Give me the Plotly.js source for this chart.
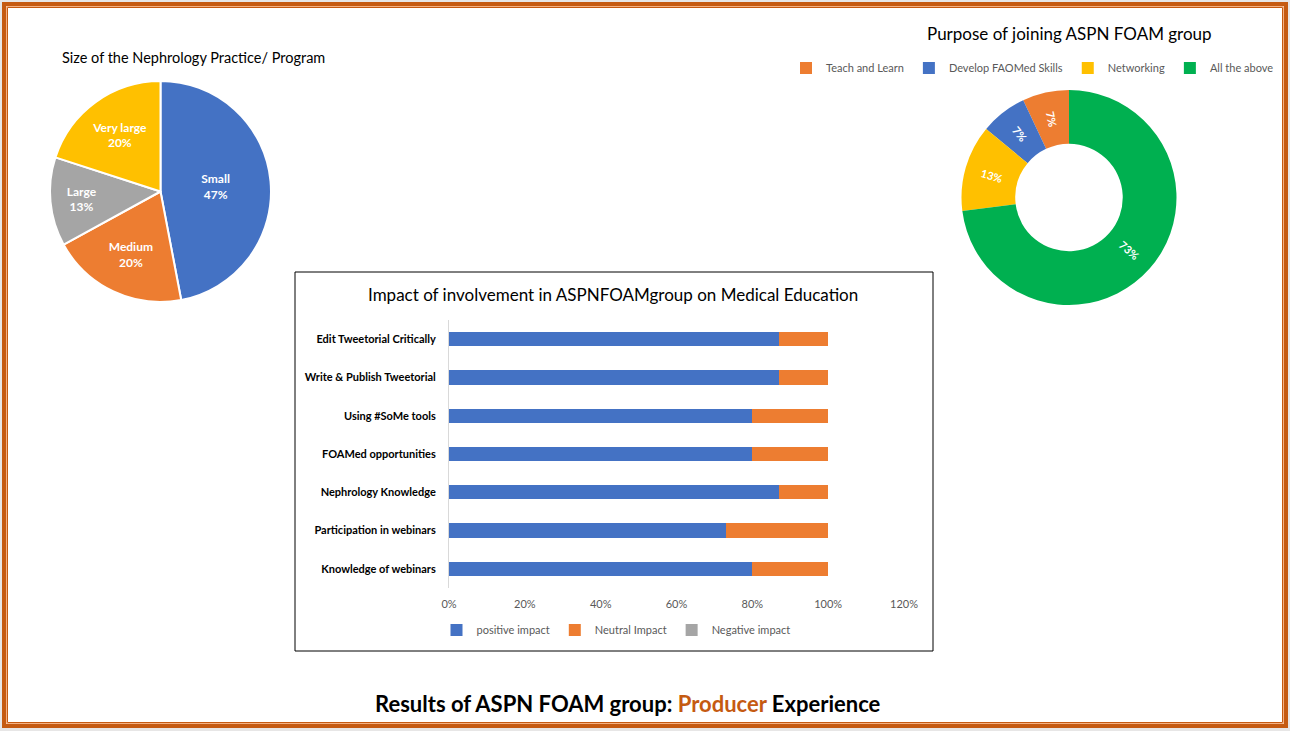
<!DOCTYPE html>
<html>
<head>
<meta charset="utf-8">
<script src="https://cdn.plot.ly/plotly-3.0.1.min.js"></script>
<style>
  html, body { margin: 0; padding: 0; background: #E7E6E6; overflow: hidden; width: 1290px; height: 731px; }
  #chart { width: 1290px; height: 731px; overflow: hidden; }
</style>
</head>
<body>
<div id="chart"></div>
<script>
// ---- Data ----
const sizeLabels = ['Small', 'Medium', 'Large', 'Very large'];
const sizeValues = [47, 20, 13, 20];
const sizeColors = ['#4472C4', '#ED7D31', '#A5A5A5', '#FFC000'];

const purposeLabels = ['Teach and Learn', 'Develop FAOMed Skills', 'Networking', 'All the above'];
const purposeValues = [7, 7, 13, 73];
const purposeColors = ['#ED7D31', '#4472C4', '#FFC000', '#00B050'];

const impactCategories = [
  'Edit Tweetorial Critically',
  'Write & Publish Tweetorial',
  'Using #SoMe tools',
  'FOAMed opportunities',
  'Nephrology Knowledge',
  'Participation in webinars',
  'Knowledge of webinars'
];
const positiveImpact = [0.87, 0.87, 0.80, 0.80, 0.87, 0.73, 0.80];
const neutralImpact  = [0.13, 0.13, 0.20, 0.20, 0.13, 0.27, 0.20];
const negativeImpact = [0, 0, 0, 0, 0, 0, 0];
const impactTicks = [0, 0.2, 0.4, 0.6, 0.8, 1.0, 1.2];

// ---- Helpers (pixel -> paper) ----
const W = 1290, H = 731;
const px = v => v / W;
const py = v => 1 - v / H;
const FONT = 'Lato, "Open Sans", sans-serif';

// Donut geometry (pixels)
const donutBox = { x0: 961, x1: 1177, y0: 90, y1: 305 };
const donutHole = 0.5;
const donutCx = (donutBox.x0 + donutBox.x1) / 2;
const donutCy = (donutBox.y0 + donutBox.y1) / 2;
const donutR = Math.min(donutBox.x1 - donutBox.x0, donutBox.y1 - donutBox.y0) / 2;

// first (orange) slice must end at 12 o'clock when drawn counterclockwise
const purposeTotal = purposeValues.reduce((a, b) => a + b, 0);
const purposeRotation = -360 * purposeValues[0] / purposeTotal;

// radial slice labels for the donut, derived from the data
const donutLabelAnnotations = [];
(function () {
  let cum = 0;
  const rMid = donutR * (1 + donutHole) / 2;
  purposeValues.forEach(v => {
    const frac = v / purposeTotal;
    const aDeg = -(cum + frac / 2) * 360; // clockwise from 12 o'clock
    const a = aDeg * Math.PI / 180;
    const rot = ((aDeg + 720) % 180) - 90;
    donutLabelAnnotations.push({
      xref: 'paper', yref: 'paper',
      x: px(donutCx + rMid * Math.sin(a)),
      y: py(donutCy - rMid * Math.cos(a)),
      xanchor: 'center', yanchor: 'middle', showarrow: false,
      textangle: rot,
      text: '<b>' + Math.round(frac * 100) + '%</b>',
      font: { size: 11, color: '#FFFFFF', family: FONT }
    });
    cum += frac;
  });
})();

const traces = [
  {
    type: 'pie',
    labels: sizeLabels,
    values: sizeValues,
    marker: { colors: sizeColors, line: { color: '#FFFFFF', width: 2 } },
    sort: false,
    direction: 'clockwise',
    rotation: 0,
    texttemplate: '<b>%{label}<br>%{percent:.0%}</b>',
    textposition: 'inside',
    insidetextorientation: 'horizontal',
    insidetextfont: { color: '#FFFFFF', size: 12, family: FONT },
    showlegend: false,
    domain: { x: [px(50), px(271)], y: [py(302), py(81)] }
  },
  {
    type: 'pie',
    labels: purposeLabels,
    values: purposeValues,
    hole: donutHole,
    marker: { colors: purposeColors, line: { color: '#FFFFFF', width: 0 } },
    sort: false,
    direction: 'counterclockwise',
    rotation: purposeRotation,
    textinfo: 'none',
    legend: 'legend',
    showlegend: true,
    domain: { x: [px(donutBox.x0), px(donutBox.x1)], y: [py(donutBox.y1), py(donutBox.y0)] }
  },
  {
    type: 'bar', orientation: 'h', name: 'positive impact',
    y: impactCategories, x: positiveImpact,
    marker: { color: '#4472C4' }, legend: 'legend2', xaxis: 'x', yaxis: 'y'
  },
  {
    type: 'bar', orientation: 'h', name: 'Neutral Impact',
    y: impactCategories, x: neutralImpact,
    marker: { color: '#ED7D31' }, legend: 'legend2', xaxis: 'x', yaxis: 'y'
  },
  {
    type: 'bar', orientation: 'h', name: 'Negative impact',
    y: impactCategories, x: negativeImpact,
    marker: { color: '#A5A5A5' }, legend: 'legend2', xaxis: 'x', yaxis: 'y'
  }
];

const layout = {
  width: W, height: H,
  margin: { l: 0, r: 0, t: 0, b: 0 },
  paper_bgcolor: '#E7E6E6',
  plot_bgcolor: 'rgba(0,0,0,0)',
  font: { family: FONT, color: '#000000' },
  barmode: 'stack',
  bargap: 0.63,
  hovermode: false,
  xaxis: {
    domain: [px(449), px(904)],
    range: [0, 1.2],
    tickvals: impactTicks,
    tickformat: '.0%',
    showgrid: false, zeroline: false, showline: false,
    ticks: '',
    ticklabelstandoff: 8,
    tickfont: { size: 11, color: '#595959', family: FONT },
    anchor: 'y'
  },
  yaxis: {
    domain: [py(588), py(320)],
    autorange: 'reversed',
    type: 'category',
    showgrid: false, zeroline: false,
    showline: true, linecolor: '#D9D9D9', linewidth: 1,
    ticks: '',
    ticklabelstandoff: 10,
    tickfont: { size: 11, color: '#000000', family: FONT, weight: 'bold' },
    anchor: 'x'
  },
  legend: {
    orientation: 'h',
    traceorder: 'normal',
    x: px(1279), xanchor: 'right',
    y: py(68), yanchor: 'middle',
    font: { size: 11, color: '#595959', family: FONT },
    bgcolor: 'rgba(0,0,0,0)',
    itemclick: false, itemdoubleclick: false
  },
  legend2: {
    orientation: 'h',
    traceorder: 'normal',
    x: px(616), xanchor: 'center',
    y: py(630), yanchor: 'middle',
    font: { size: 11, color: '#595959', family: FONT },
    bgcolor: 'rgba(0,0,0,0)',
    itemclick: false, itemdoubleclick: false
  },
  shapes: [
    { type: 'rect', xref: 'paper', yref: 'paper', layer: 'below',
      x0: px(2), x1: px(1288), y0: py(728), y1: py(2),
      fillcolor: '#FFFFFF', line: { width: 0 } },
    { type: 'rect', xref: 'paper', yref: 'paper',
      x0: px(4), x1: px(1286), y0: py(726), y1: py(4),
      line: { color: '#C55A11', width: 4 } },
    { type: 'rect', xref: 'paper', yref: 'paper',
      x0: px(6.5), x1: px(1283.5), y0: py(723.5), y1: py(6.5),
      line: { color: '#F4B183', width: 1 } },
    { type: 'rect', xref: 'paper', yref: 'paper',
      x0: px(7.5), x1: px(1282.5), y0: py(722.5), y1: py(7.5),
      line: { color: '#C55A11', width: 1 } },
    { type: 'rect', xref: 'paper', yref: 'paper',
      x0: px(295), x1: px(933), y0: py(651), y1: py(272),
      line: { color: '#000000', width: 1 } }
  ],
  annotations: [
    { xref: 'paper', yref: 'paper', x: px(193), y: py(57), showarrow: false,
      xanchor: 'center', yanchor: 'middle',
      text: 'Size of the Nephrology Practice/ Program',
      font: { size: 14.5, color: '#000000', family: FONT } },
    { xref: 'paper', yref: 'paper', x: px(1069), y: py(34), showarrow: false,
      xanchor: 'center', yanchor: 'middle',
      text: 'Purpose of joining ASPN FOAM group',
      font: { size: 17, color: '#000000', family: FONT } },
    { xref: 'paper', yref: 'paper', x: px(613), y: py(294), showarrow: false,
      xanchor: 'center', yanchor: 'middle',
      text: 'Impact of involvement in ASPNFOAMgroup on Medical Education',
      font: { size: 17, color: '#000000', family: FONT } },
    { xref: 'paper', yref: 'paper', x: px(628), y: py(703), showarrow: false,
      xanchor: 'center', yanchor: 'middle',
      text: '<b>Results of ASPN FOAM group: <span style="color:#C55A11">Producer</span> Experience</b>',
      font: { size: 22, color: '#000000', family: FONT } }
  ].concat(donutLabelAnnotations)
};

Plotly.newPlot('chart', traces, layout, { displayModeBar: false, staticPlot: true });
</script>
</body>
</html>
